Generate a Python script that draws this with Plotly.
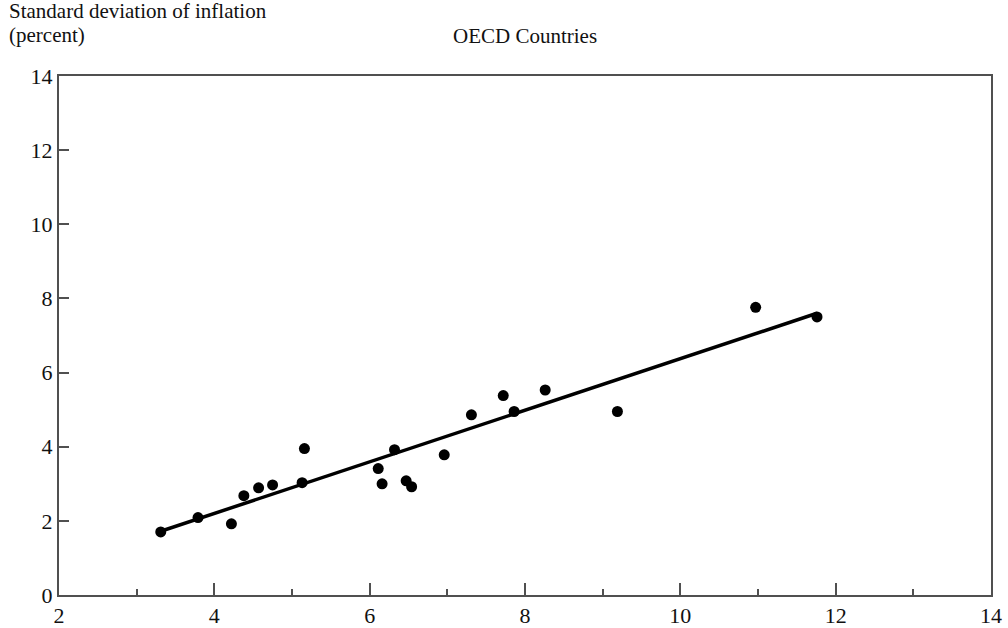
import plotly.graph_objects as go

# Mean inflation (x) vs standard deviation of inflation (y), OECD countries
mean_infl = [3.31, 3.79, 4.22, 4.38, 4.57, 4.75, 5.13, 5.16, 6.11, 6.16, 6.32,
             6.47, 6.54, 6.96, 7.31, 7.72, 7.86, 8.26, 9.19, 10.97, 11.76]
sd_infl = [1.70, 2.09, 1.92, 2.68, 2.89, 2.97, 3.03, 3.95, 3.41, 3.00, 3.92,
           3.08, 2.92, 3.78, 4.86, 5.38, 4.95, 5.53, 4.95, 7.76, 7.50]

fit_x = [3.31, 11.76]
fit_y = [1.72, 7.60]

x_ticks = [2, 4, 6, 8, 10, 12, 14]
y_ticks = [0, 2, 4, 6, 8, 10, 12, 14]

FONT = "Liberation Serif"
AX = "#505050"

fig = go.Figure()
fig.add_trace(go.Scatter(x=fit_x, y=fit_y, mode="lines",
                         line=dict(color="black", width=3.5), hoverinfo="skip"))
fig.add_trace(go.Scatter(x=mean_infl, y=sd_infl, mode="markers",
                         marker=dict(color="black", size=11)))

fig.update_layout(
    width=1008, height=628,
    margin=dict(l=59, r=17, t=76, b=33),
    paper_bgcolor="white", plot_bgcolor="white",
    showlegend=False,
    font=dict(family=FONT, size=22, color="#111"),
    xaxis=dict(range=[2, 14], tickvals=x_ticks, ticks="inside", ticklen=12,
               tickwidth=1.5, tickcolor=AX, showline=True, linecolor=AX,
               linewidth=2, mirror=True, showgrid=False, zeroline=False,
               automargin=False,
               minor=dict(dtick=1, ticks="inside", ticklen=6, tickwidth=1.5,
                          tickcolor=AX, showgrid=False),
               tickfont=dict(family=FONT, size=22)),
    yaxis=dict(range=[0, 14], tickvals=y_ticks, ticks="inside", ticklen=10,
               tickwidth=1.5, tickcolor=AX, showline=True, linecolor=AX,
               linewidth=2, mirror=True, showgrid=False, zeroline=False,
               automargin=False,
               tickfont=dict(family=FONT, size=22)),
    annotations=[
        dict(text="Standard deviation of inflation", x=0, y=1,
             xref="paper", yref="paper", xanchor="left", yanchor="middle",
             xshift=-52, yshift=65, showarrow=False, align="left",
             font=dict(family=FONT, size=21)),
        dict(text="(percent)", x=0, y=1,
             xref="paper", yref="paper", xanchor="left", yanchor="middle",
             xshift=-52, yshift=41, showarrow=False, align="left",
             font=dict(family=FONT, size=21)),
        dict(text="OECD Countries", x=0.5, y=1, xref="paper", yref="paper",
             xanchor="center", yanchor="middle", yshift=40, showarrow=False,
             font=dict(family=FONT, size=21)),
    ],
)

fig.write_html("out.html", config={"displayModeBar": False},
               post_script="document.body.style.margin='0';"
                           "document.body.style.overflow='hidden';")
